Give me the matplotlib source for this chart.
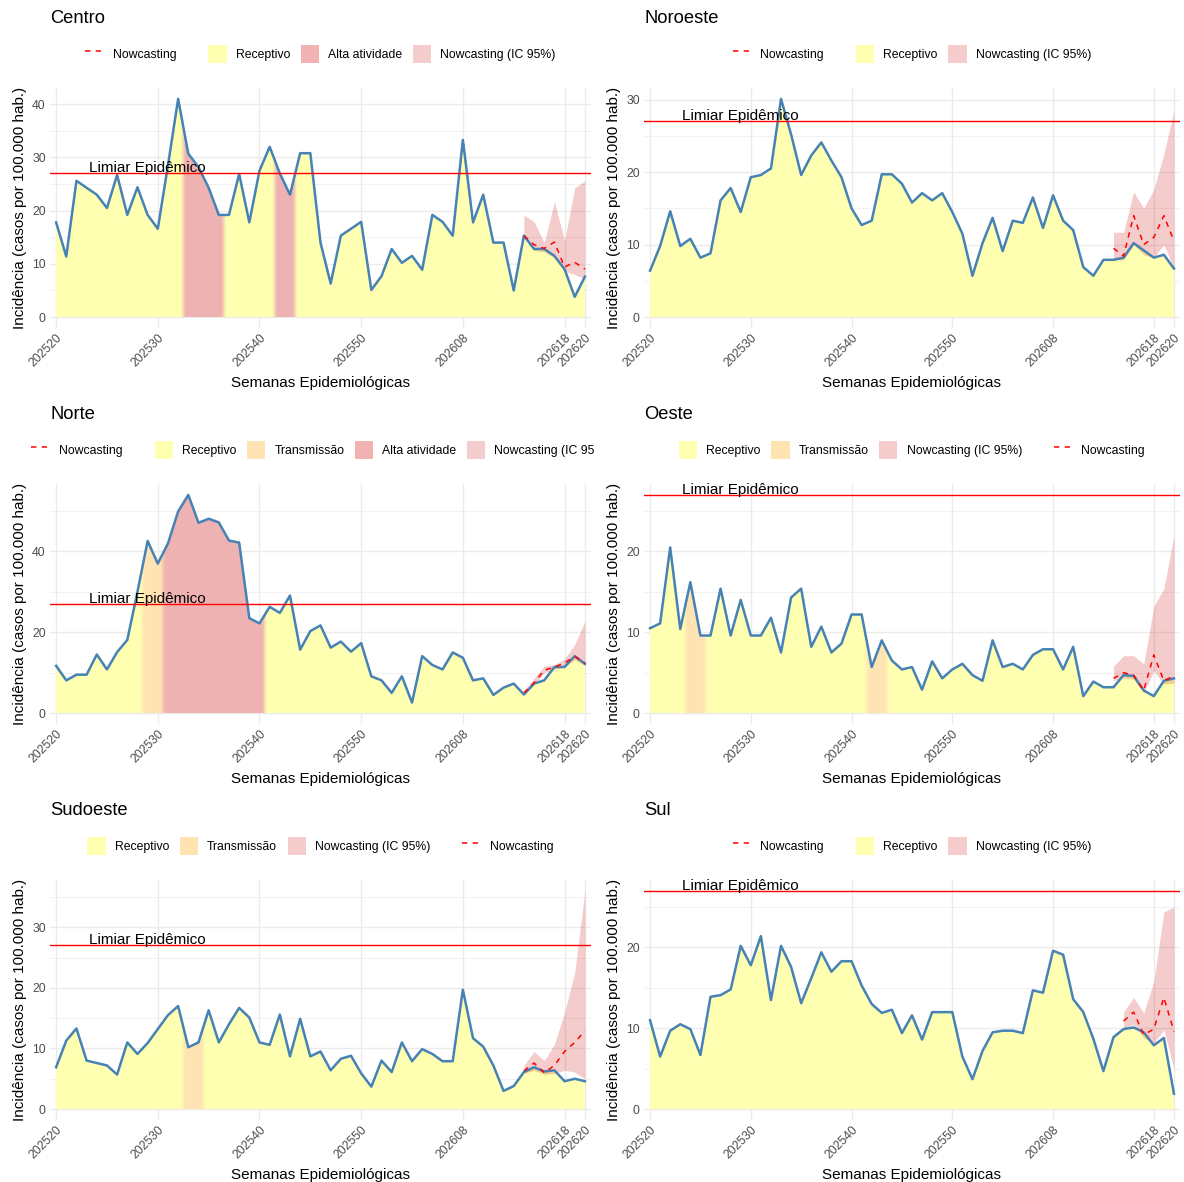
import numpy as np
import matplotlib
matplotlib.use('Agg')
import matplotlib.pyplot as plt
from matplotlib.lines import Line2D
from matplotlib.patches import Patch
from matplotlib.legend import Legend
from matplotlib.colors import to_rgb
from matplotlib.ticker import MultipleLocator
from matplotlib.transforms import Bbox, TransformedBbox

plt.rcParams['font.family'] = ['Liberation Sans', 'DejaVu Sans']

# Semanas epidemiológicas 202520 a 202620
semanas = ['2025%02d' % s for s in range(20, 53)] + ['2026%02d' % s for s in range(1, 21)]
semanas_rotulo = ['202520', '202530', '202540', '202550', '202608', '202618', '202620']
limiar = 27

# ---- Centro ----
centro_inc = [17.8, 11.4, 25.6, 24.3, 23.0, 20.5, 26.7, 19.2, 24.4, 19.2,
              16.6, 28.5, 41.0, 30.7, 28.2, 24.3, 19.2, 19.2, 26.9, 17.8,
              27.5, 32.0, 27.0, 23.0, 30.8, 30.8, 14.0, 6.3, 15.3, 16.6,
              17.9, 5.1, 7.7, 12.8, 10.2, 11.5, 8.9, 19.2, 17.9, 15.3,
              33.3, 17.8, 23.0, 14.0, 14.0, 5.0, 15.3, 12.8, 12.8, 11.5,
              9.0, 3.8, 7.6]
centro_now_inicio = '202614'
centro_now = [15.3, 13.6, 12.9, 14.1, 9.4, 10.3, 9.0]
centro_now_sup = [19.2, 17.9, 14.0, 21.7, 14.4, 24.3, 25.6]
centro_now_inf = [15.0, 12.5, 12.3, 11.2, 8.6, 8.0, 7.2]
centro_transmissao = []
centro_alta = ['202533', '202534', '202535', '202536', '202542', '202543']

# ---- Noroeste ----
noroeste_inc = [6.4, 9.8, 14.6, 9.8, 10.8, 8.2, 8.8, 16.1, 17.8, 14.5,
                19.3, 19.6, 20.5, 30.1, 25.2, 19.6, 22.3, 24.1, 21.6, 19.3,
                15.0, 12.7, 13.3, 19.7, 19.7, 18.4, 15.8, 17.1, 16.1, 17.1,
                14.5, 11.5, 5.7, 10.2, 13.7, 9.1, 13.3, 13.0, 16.5, 12.3,
                16.8, 13.3, 12.0, 6.9, 5.7, 7.9, 7.9, 8.2, 10.2, 9.2,
                8.2, 8.6, 6.7]
noroeste_now_inicio = '202614'
noroeste_now = [9.5, 8.4, 14.0, 10.0, 11.0, 14.0, 10.5]
noroeste_now_sup = [11.7, 11.7, 17.3, 15.0, 17.6, 22.5, 28.5]
noroeste_now_inf = [7.9, 7.9, 10.0, 8.6, 8.2, 10.0, 6.7]
noroeste_transmissao = []
noroeste_alta = []

# ---- Norte ----
norte_inc = [11.7, 8.1, 9.5, 9.5, 14.5, 10.8, 15.1, 18.1, 30.0, 42.6,
             37.0, 42.0, 49.9, 54.0, 47.1, 48.1, 47.2, 42.7, 42.2, 23.5,
             22.2, 26.3, 24.8, 29.1, 15.7, 20.3, 21.7, 16.2, 17.7, 15.2,
             17.3, 9.1, 8.1, 5.0, 9.1, 2.6, 14.1, 11.9, 10.8, 15.0,
             13.7, 8.1, 8.6, 4.5, 6.3, 7.3, 4.6, 7.3, 8.1, 11.4,
             11.4, 14.1, 12.2]
norte_now_inicio = '202614'
norte_now = [5.0, 7.5, 10.6, 11.4, 12.4, 14.0, 12.4]
norte_now_sup = [5.6, 8.6, 11.6, 12.0, 13.4, 17.0, 22.7]
norte_now_inf = [4.5, 7.0, 10.0, 10.8, 11.6, 13.2, 11.8]
norte_transmissao = ['202529', '202530']
norte_alta = ['202531', '202532', '202533', '202534', '202535',
              '202536', '202537', '202538', '202539', '202540']

# ---- Oeste ----
oeste_inc = [10.5, 11.1, 20.5, 10.4, 16.2, 9.6, 9.6, 15.4, 9.6, 14.0,
             9.6, 9.6, 11.8, 7.5, 14.3, 15.4, 8.2, 10.7, 7.5, 8.6,
             12.2, 12.2, 5.7, 9.0, 6.5, 5.4, 5.7, 2.9, 6.4, 4.3,
             5.4, 6.1, 4.7, 4.0, 9.0, 5.7, 6.1, 5.4, 7.2, 7.9,
             7.9, 5.4, 8.2, 2.1, 3.9, 3.2, 3.2, 4.7, 4.6, 2.8,
             2.1, 4.0, 4.3]
oeste_now_inicio = '202614'
oeste_now = [4.3, 5.0, 4.7, 2.8, 7.2, 4.0, 4.6]
oeste_now_sup = [5.8, 7.1, 7.1, 6.1, 13.2, 15.4, 22.0]
oeste_now_inf = [4.0, 4.4, 4.2, 2.5, 5.2, 3.6, 3.7]
oeste_transmissao = ['202524', '202525', '202542', '202543']
oeste_alta = []

# ---- Sudoeste ----
sudoeste_inc = [6.9, 11.3, 13.3, 8.0, 7.6, 7.2, 5.7, 11.0, 9.1, 10.9,
                13.2, 15.5, 17.0, 10.2, 11.0, 16.3, 11.0, 14.0, 16.7, 15.1,
                11.0, 10.6, 15.6, 8.7, 14.9, 8.7, 9.5, 6.4, 8.3, 8.8,
                5.9, 3.7, 8.0, 6.1, 11.0, 7.9, 9.9, 9.1, 7.9, 7.9,
                19.7, 11.7, 10.3, 7.2, 3.0, 3.8, 6.1, 6.9, 6.2, 6.4,
                4.6, 5.0, 4.6]
sudoeste_now_inicio = '202614'
sudoeste_now = [6.3, 7.6, 6.0, 7.2, 9.5, 11.0, 12.9]
sudoeste_now_sup = [7.2, 9.5, 8.0, 10.7, 16.0, 22.5, 36.0]
sudoeste_now_inf = [5.9, 6.4, 5.7, 5.9, 6.4, 6.1, 5.0]
sudoeste_transmissao = ['202533', '202534']
sudoeste_alta = []

# ---- Sul ----
sul_inc = [11.0, 6.5, 9.7, 10.5, 9.9, 6.7, 13.9, 14.1, 14.8, 20.2,
           17.8, 21.4, 13.5, 20.2, 17.6, 13.1, 16.2, 19.4, 17.0, 18.3,
           18.3, 15.3, 13.0, 11.9, 12.3, 9.4, 11.6, 8.6, 12.0, 12.0,
           12.0, 6.5, 3.7, 7.2, 9.5, 9.7, 9.7, 9.4, 14.7, 14.4,
           19.6, 19.1, 13.6, 12.0, 8.7, 4.7, 8.9, 9.9, 10.1, 9.5,
           7.9, 8.8, 1.9]
sul_now_inicio = '202615'
sul_now = [10.9, 12.0, 9.2, 9.9, 13.8, 9.6]
sul_now_sup = [12.0, 13.8, 11.9, 15.8, 24.4, 25.0]
sul_now_inf = [10.0, 10.5, 8.8, 8.2, 9.8, 5.0]
sul_transmissao = []
sul_alta = []

regioes = [
    ('Centro', centro_inc, centro_now_inicio, centro_now, centro_now_inf, centro_now_sup,
     centro_transmissao, centro_alta, 'linha'),
    ('Noroeste', noroeste_inc, noroeste_now_inicio, noroeste_now, noroeste_now_inf, noroeste_now_sup,
     noroeste_transmissao, noroeste_alta, 'linha'),
    ('Norte', norte_inc, norte_now_inicio, norte_now, norte_now_inf, norte_now_sup,
     norte_transmissao, norte_alta, 'linha'),
    ('Oeste', oeste_inc, oeste_now_inicio, oeste_now, oeste_now_inf, oeste_now_sup,
     oeste_transmissao, oeste_alta, 'area'),
    ('Sudoeste', sudoeste_inc, sudoeste_now_inicio, sudoeste_now, sudoeste_now_inf, sudoeste_now_sup,
     sudoeste_transmissao, sudoeste_alta, 'area'),
    ('Sul', sul_inc, sul_now_inicio, sul_now, sul_now_inf, sul_now_sup,
     sul_transmissao, sul_alta, 'linha'),
]

cores_nivel = {'Receptivo': '#FFFFB2', 'Transmissão': '#FFE4B2', 'Alta atividade': '#F0B2B2'}
cor_ic = '#CD0000'

W, H = 1184, 1182
fig = plt.figure(figsize=(W / 100, H / 100), dpi=100)
renderer = fig.canvas.get_renderer()

colunas = [(50, 541), (644, 536)]
linhas = [88, 484, 880]
altura = 240
x = np.arange(len(semanas))


def faixa_nivel(ax, y, transmissao, alta):
    # cor de cada semana conforme o nível de alerta, com transição suave
    niveis = []
    for s in semanas:
        if s in alta:
            niveis.append('Alta atividade')
        elif s in transmissao:
            niveis.append('Transmissão')
        else:
            niveis.append('Receptivo')
    rgb = np.array([to_rgb(cores_nivel[n]) for n in niveis])
    fino = np.repeat(rgb, 20, axis=0)
    k = 9
    fino = np.pad(fino, ((k // 2, k // 2), (0, 0)), mode='edge')
    kern = np.ones(k) / k
    suave = np.stack([np.convolve(fino[:, c], kern, mode='valid') for c in range(3)], axis=1)
    im = ax.imshow(suave[np.newaxis], extent=(-0.5, len(semanas) - 0.5, 0, max(y)),
                   aspect='auto', interpolation='bilinear', zorder=1)
    area = ax.fill_between(x, 0, y, facecolor='none', edgecolor='none')
    im.set_clip_path(area.get_paths()[0], transform=ax.transData)
    return niveis


for k, (nome, inc, ini, now, inf, sup, transm, alta, ordem) in enumerate(regioes):
    left, width = colunas[k % 2]
    top = linhas[k // 2]
    ax = fig.add_axes([left / W, 1 - (top + altura) / H, width / W, altura / H])

    niveis = faixa_nivel(ax, inc, transm, alta)

    xn = semanas.index(ini) + np.arange(len(now))
    ax.fill_between(xn, inf, sup, color=cor_ic, alpha=0.2, lw=0, zorder=2)
    ax.plot(x, inc, color='steelblue', lw=1.8, zorder=3)
    ax.plot(xn, now, color='red', lw=1.1, ls=(0, (3.5, 3.5)), zorder=4)
    ax.axhline(limiar, color='red', lw=1.0, zorder=5)
    ax.annotate('Limiar Epidêmico', (9, limiar), xytext=(0, 5), textcoords='offset pixels',
                ha='center', va='center', fontsize=11, zorder=6)

    ymax = max(max(inc), max(sup), max(now), limiar)
    ax.set_ylim(-0.05 * ymax, 1.05 * ymax)
    ax.set_xlim(-0.6, len(semanas) - 0.4)

    passo = 20 if ymax > 45 else 10
    ax.yaxis.set_major_locator(MultipleLocator(passo))
    ax.yaxis.set_minor_locator(MultipleLocator(passo / 2))
    ax.set_xticks([semanas.index(s) for s in semanas_rotulo])
    ax.set_xticklabels(semanas_rotulo, rotation=45, ha='right', va='top', rotation_mode='anchor')
    ax.tick_params(axis='both', which='both', length=0, labelsize=8.8, labelcolor='#4D4D4D', pad=3)
    ax.grid(which='major', color='#EBEBEB', lw=1.0)
    ax.grid(which='minor', axis='y', color='#EBEBEB', lw=0.5)
    ax.set_axisbelow(True)
    for sp in ax.spines.values():
        sp.set_visible(False)

    ax.set_title(nome, loc='left', fontsize=13.2, pad=47)
    ax.set_xlabel('Semanas Epidemiológicas', fontsize=11, labelpad=4.5)
    ax.set_ylabel('Incidência (casos por 100.000 hab.)', fontsize=11, labelpad=4)

    # legendas: guia da linha e guia do preenchimento
    h_linha = [Line2D([], [], color='red', lw=1.1, ls=(0, (3.5, 3.5)))]
    l_linha = ['Nowcasting']
    h_area, l_area = [], []
    for n in ['Receptivo', 'Transmissão', 'Alta atividade']:
        if n in niveis:
            h_area.append(Patch(facecolor=cores_nivel[n], edgecolor='none'))
            l_area.append(n)
    h_area.append(Patch(facecolor=cor_ic, alpha=0.2, edgecolor='none'))
    l_area.append('Nowcasting (IC 95%)')
    grupos = [(h_linha, l_linha), (h_area, l_area)]
    if ordem == 'area':
        grupos = grupos[::-1]

    legs = []
    for hs, ls in grupos:
        leg = Legend(fig, hs, ls, loc='center left', ncol=len(hs), frameon=False, fontsize=8.8,
                     handlelength=1.5, handleheight=1.9, handletextpad=0.75,
                     columnspacing=0.85, borderpad=0, borderaxespad=0)
        legs.append(leg)
    larg = [l.get_window_extent(renderer).width for l in legs]
    gap = 32
    total = sum(larg) + gap * (len(legs) - 1)
    x0 = left + width / 2 - total / 2
    cy = top - 34
    clip = TransformedBbox(Bbox.from_extents(0, 0, 594 / W if k % 2 == 0 else 1, 1), fig.transFigure)
    for leg, w in zip(legs, larg):
        leg.set_bbox_to_anchor((x0 / W, 1 - cy / H), transform=fig.transFigure)
        for t in leg.get_texts() + leg.get_patches() + leg.get_lines():
            t.set_clip_box(clip)
            t.set_clip_on(True)
        fig.legends.append(leg)
        x0 += w + gap

fig.savefig('out.png', dpi=100, facecolor='white')
